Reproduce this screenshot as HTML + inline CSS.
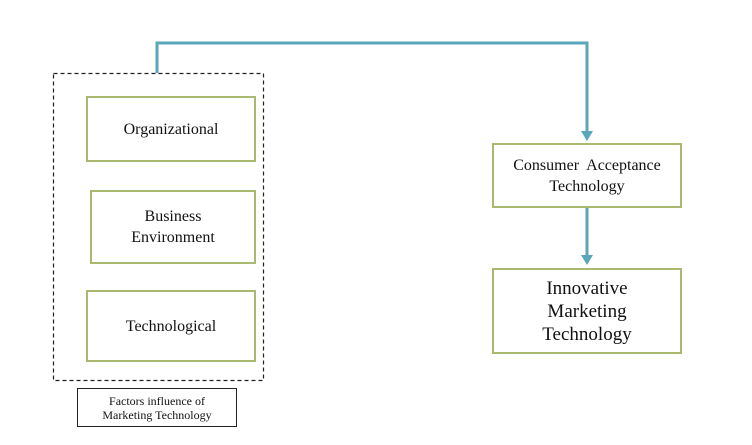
<!DOCTYPE html>
<html><head><style>
body{margin:0;width:752px;height:445px;background:#fff;overflow:hidden;font-family:"Liberation Serif",serif;color:#111}
.b{position:absolute;box-sizing:border-box;border:2px solid #a9b96f;display:flex;align-items:center;justify-content:center;text-align:center;font-size:16px;line-height:21px;background:#fff}
</style></head><body>
<svg width="752" height="445" style="position:absolute;left:0;top:0">
<rect x="53.5" y="73.5" width="210" height="307" fill="none" stroke="#222" stroke-width="1.2" stroke-dasharray="4,3"/>
<polyline points="157,73 157,43 587,43 587,135" fill="none" stroke="#5aa6bb" stroke-width="3"/>
<polygon points="581,131 593,131 587,141" fill="#5aa6bb"/>
<line x1="587" y1="208" x2="587" y2="259" stroke="#5aa6bb" stroke-width="3"/>
<polygon points="581,255 593,255 587,265" fill="#5aa6bb"/>
</svg>
<div class="b" style="left:86px;top:96px;width:170px;height:66px">Organizational</div>
<div class="b" style="left:90px;top:190px;width:166px;height:74px">Business<br>Environment</div>
<div class="b" style="left:86px;top:290px;width:170px;height:72px">Technological</div>
<div class="b" style="left:492px;top:143px;width:190px;height:65px">Consumer&nbsp; Acceptance<br>Technology</div>
<div class="b" style="left:492px;top:268px;width:190px;height:86px;font-size:19px;line-height:23px">Innovative<br>Marketing<br>Technology</div>
<div class="b" style="left:77px;top:388px;width:160px;height:39px;border:1px solid #222;font-size:12px;line-height:14px">Factors influence of<br>Marketing Technology</div>
</body></html>
